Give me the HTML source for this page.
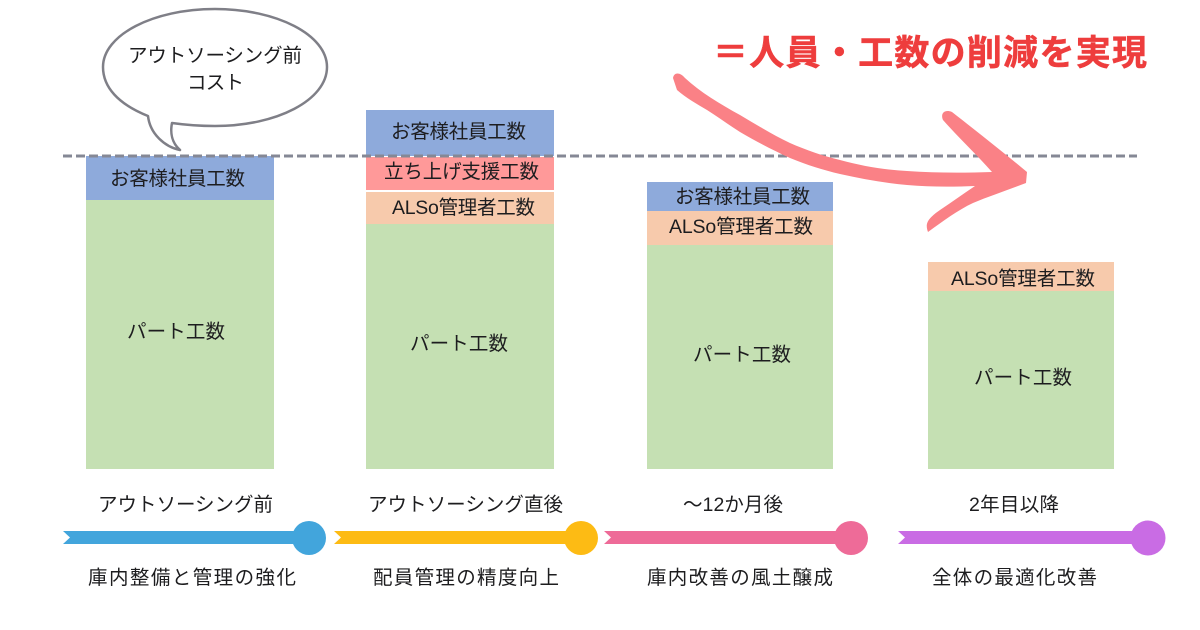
<!DOCTYPE html>
<html lang="ja"><head><meta charset="utf-8">
<style>
html,body{margin:0;padding:0;background:#fff;width:1200px;height:630px;overflow:hidden}
svg{display:block}
text{font-family:"Liberation Sans","Noto Sans CJK JP",sans-serif;fill:#1d1d1f;font-size:19.5px}
</style></head><body>
<svg width="1200" height="630" viewBox="0 0 1200 630" xmlns="http://www.w3.org/2000/svg">
<rect width="1200" height="630" fill="#fff"/>
<!-- bars -->
<rect x="86" y="156" width="188" height="44" fill="#8eaadb"/>
<rect x="86" y="200" width="188" height="269" fill="#c5e0b3"/>
<rect x="366" y="110" width="188" height="46" fill="#8eaadb"/>
<rect x="366" y="157" width="188" height="33" fill="#ff9999"/>
<rect x="366" y="192" width="188" height="32" fill="#f7caac"/>
<rect x="366" y="224" width="188" height="245" fill="#c5e0b3"/>
<rect x="647" y="182" width="186" height="29" fill="#8eaadb"/>
<rect x="647" y="211" width="186" height="34" fill="#f7caac"/>
<rect x="647" y="245" width="186" height="224" fill="#c5e0b3"/>
<rect x="928" y="262" width="186" height="29" fill="#f7caac"/>
<rect x="928" y="291" width="186" height="178" fill="#c5e0b3"/>
<!-- dashed line -->
<line x1="63" y1="156" x2="1137" y2="156" stroke="#858895" stroke-width="3" stroke-dasharray="9 4"/>
<!-- bubble -->
<path d="M148 116 C118 104 103 87 103 67 C103 35 153 9 215 9 C277 9 327 35 327 67 C327 100 277 126 215 126 C200 126 186 125 172 123 C170 133 172 143 180 150 C165 147 150 134 148 116 Z" fill="#fff" stroke="#7f7f87" stroke-width="2.5" stroke-linejoin="round"/>
<!-- hand-drawn arrow -->
<path d="M673 78 C674 72 680 72 685 78 C700 92 720 104 740 115 C757 125 773 135 790 143 C806 150 823 156 840 160 C862 166 885 170 907 171 C935 173 963 173 992 172 C978 156 958 137 943 120 C940 113 945 109 952 112 C975 130 1003 152 1027 172 L1026 183 C1008 190 990 196 973 203 C958 210 943 221 928 232 C925 224 927 219 940 210 C952 202 963 194 975 186 C952 187 930 187 907 185 C885 183 862 179 840 174 C823 170 807 165 790 158 C773 150 757 142 740 132 C729 125 718 117 707 110 C697 104 686 98 677 90 Z" fill="#fa8186"/>
<!-- title -->
<text x="713" y="65" textLength="434" lengthAdjust="spacing" style="font-size:35px;font-weight:700;fill:#ee3d3d;stroke:#ee3d3d;stroke-width:.5">＝人員・工数の削減を実現</text>
<!-- bubble text -->
<text x="128" y="62" textLength="174" lengthAdjust="spacing">アウトソーシング前</text>
<text x="187" y="89" textLength="57" lengthAdjust="spacing">コスト</text>
<!-- bar labels -->
<text x="110" y="185" textLength="135" lengthAdjust="spacing">お客様社員工数</text>
<text x="127" y="338" textLength="98" lengthAdjust="spacing">パート工数</text>
<text x="391" y="138" textLength="135" lengthAdjust="spacing">お客様社員工数</text>
<text x="384" y="178" textLength="155" lengthAdjust="spacing">立ち上げ支援工数</text>
<text x="392" y="214" textLength="143" lengthAdjust="spacing">ALSo管理者工数</text>
<text x="410" y="350" textLength="98" lengthAdjust="spacing">パート工数</text>
<text x="675" y="203" textLength="135" lengthAdjust="spacing">お客様社員工数</text>
<text x="669" y="233" textLength="144" lengthAdjust="spacing">ALSo管理者工数</text>
<text x="693" y="361" textLength="98" lengthAdjust="spacing">パート工数</text>
<text x="951" y="285" textLength="144" lengthAdjust="spacing">ALSo管理者工数</text>
<text x="974" y="384" textLength="98" lengthAdjust="spacing">パート工数</text>
<!-- timeline labels -->
<text x="98" y="511" textLength="175" lengthAdjust="spacing">アウトソーシング前</text>
<text x="368" y="511" textLength="195" lengthAdjust="spacing">アウトソーシング直後</text>
<text x="683" y="511" textLength="100" lengthAdjust="spacing">～12か月後</text>
<text x="969" y="511" textLength="90" lengthAdjust="spacing">2年目以降</text>
<!-- timelines -->
<path d="M63 531 H305 V544 H63 L70 537.5 Z" fill="#42a5dc"/><circle cx="309" cy="538" r="17" fill="#42a5dc"/>
<path d="M334 531 H575 V544 H334 L341 537.5 Z" fill="#fdbb14"/><circle cx="581" cy="538" r="17" fill="#fdbb14"/>
<path d="M604 531 H845 V544 H604 L611 537.5 Z" fill="#ee6b98"/><circle cx="851" cy="538" r="17" fill="#ee6b98"/>
<path d="M898 531 H1142 V544 H898 L905 537.5 Z" fill="#c96ce4"/><circle cx="1148" cy="538" r="17.5" fill="#c96ce4"/>
<!-- bottom labels -->
<text x="88" y="584" textLength="208" lengthAdjust="spacing">庫内整備と管理の強化</text>
<text x="373" y="584" textLength="186" lengthAdjust="spacing">配員管理の精度向上</text>
<text x="647" y="584" textLength="186" lengthAdjust="spacing">庫内改善の風土醸成</text>
<text x="932" y="584" textLength="165" lengthAdjust="spacing">全体の最適化改善</text>
</svg>
</body></html>
